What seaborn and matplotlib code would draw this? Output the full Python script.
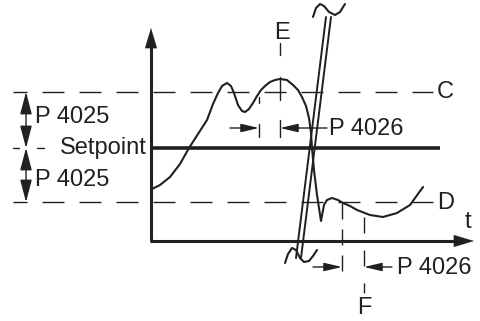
import matplotlib
matplotlib.use('Agg')
import matplotlib.pyplot as plt
import seaborn as sns
from matplotlib.patches import ArrowStyle

# Diagram drawn in pixel coordinates of the 480x321 picture
# Control curve (actual value over time t)
curve_x = [152, 160, 170, 180, 189, 198, 207, 213, 218, 222, 227, 231, 234, 238, 242, 245,
           249, 253, 257, 261, 265, 270, 275, 280, 287, 293, 298, 302, 306, 309, 311, 312,
           314, 317, 321, 324, 327, 332, 338, 343, 350, 357, 370, 383, 397, 410, 423]
curve_y = [189, 185, 177, 164, 148, 134, 120, 104, 93, 86, 83, 86, 93, 105, 111, 112,
           109, 103, 96, 90, 86, 82, 80, 79, 80, 85, 90, 97, 106, 118, 133, 148,
           170, 195, 221, 205, 200, 198, 200, 203, 206, 210, 215, 217, 213, 205, 187]

# Axis break symbol (two slanted lines plus wavy ends)
break_x1 = [296, 326]
break_x2 = [301, 331]
break_y = [258, 17]
top_wave_x = [313, 316, 320, 324, 329, 335, 340, 345]
top_wave_y = [17, 8, 4, 6, 12, 15, 12, 4]
bot_wave_x = [285, 288, 292, 296, 300, 304, 309, 313, 317]
bot_wave_y = [263, 254, 248, 250, 258, 262, 261, 256, 250]

# Levels
setpoint_y = 148
band_c_y = 92
band_d_y = 202

# Labels
band_label = 'P 4025'
time_label = 'P 4026'

ink = '#231f20'
px = 0.72  # points per pixel at dpi 100

sns.set_style('white')
plt.rcParams['font.family'] = ['Liberation Sans', 'DejaVu Sans']

fig = plt.figure(figsize=(4.8, 3.21), dpi=100)
ax = fig.add_axes([0, 0, 1, 1])
ax.set_xlim(0, 480)
ax.set_ylim(321, 0)
ax.axis('off')

# dashed tolerance lines C and D
period_on, period_off = 22 * px, 15 * px
for yy in (band_c_y, band_d_y):
    ax.plot([13, 433], [yy, yy], color=ink, lw=1.0,
            linestyle=(8 * px, (period_on, period_off)))
# short dashes left of "Setpoint"
ax.plot([13, 19], [setpoint_y, setpoint_y], color=ink, lw=1.0)
ax.plot([37, 44], [setpoint_y, setpoint_y], color=ink, lw=1.0)

# setpoint line
ax.plot([151, 440], [setpoint_y, setpoint_y], color=ink, lw=2.6, solid_capstyle='butt')

# axes with arrows
ax.plot([151, 151], [241, 46], color=ink, lw=2.2, solid_capstyle='butt')
ax.plot([150, 456], [241, 241], color=ink, lw=2.2, solid_capstyle='butt')
axis_head = ArrowStyle('-|>', head_length=2.0, head_width=0.6)
ax.annotate('', xy=(151, 28), xytext=(151, 50),
            arrowprops=dict(arrowstyle=axis_head, color=ink, lw=0.1,
                            mutation_scale=7.2, shrinkA=0, shrinkB=0))
ax.annotate('', xy=(474, 241), xytext=(452, 241),
            arrowprops=dict(arrowstyle=axis_head, color=ink, lw=0.1,
                            mutation_scale=7.2, shrinkA=0, shrinkB=0))

# control curve
sns.lineplot(x=curve_x, y=curve_y, sort=False, color=ink, lw=1.5, ax=ax)

# break symbol
sns.lineplot(x=break_x1, y=break_y, sort=False, color=ink, lw=1.4, ax=ax)
sns.lineplot(x=break_x2, y=break_y, sort=False, color=ink, lw=1.4, ax=ax)
sns.lineplot(x=top_wave_x, y=top_wave_y, sort=False, color=ink, lw=1.5, ax=ax)
sns.lineplot(x=bot_wave_x, y=bot_wave_y, sort=False, color=ink, lw=1.5, ax=ax)

# P 4025 double arrows
band_head = ArrowStyle('<|-|>', head_length=1.9, head_width=0.5)
for y0, y1 in ((band_c_y, setpoint_y), (setpoint_y, band_d_y)):
    ax.annotate('', xy=(26, y1), xytext=(26, y0),
                arrowprops=dict(arrowstyle=band_head, color=ink, lw=1.0,
                                mutation_scale=7.2, shrinkA=0, shrinkB=0))

# E marker: dashed verticals and arrows
small_head = ArrowStyle('-|>', head_length=1.5, head_width=0.35)
ax.plot([280, 280], [43, 55], color=ink, lw=1.0)
ax.plot([280, 280], [77, 100], color=ink, lw=1.0)
ax.plot([280, 280], [120, 137], color=ink, lw=1.0)
ax.plot([259, 259], [97, 103], color=ink, lw=1.0)
ax.plot([259, 259], [124, 137], color=ink, lw=1.0)
ax.annotate('', xy=(259, 128), xytext=(230, 128),
            arrowprops=dict(arrowstyle=small_head, color=ink, lw=1.0,
                            mutation_scale=7.2, shrinkA=0, shrinkB=0))
ax.annotate('', xy=(280, 128), xytext=(327, 128),
            arrowprops=dict(arrowstyle=small_head, color=ink, lw=1.0,
                            mutation_scale=7.2, shrinkA=0, shrinkB=0))

# F marker
ax.plot([342, 342], [203, 272], color=ink, lw=1.0, linestyle=(0, (16 * px, 10 * px)))
ax.plot([364, 364], [217, 293], color=ink, lw=1.0, linestyle=(0, (16 * px, 17 * px)))
ax.annotate('', xy=(342, 267), xytext=(313, 267),
            arrowprops=dict(arrowstyle=small_head, color=ink, lw=1.0,
                            mutation_scale=7.2, shrinkA=0, shrinkB=0))
ax.annotate('', xy=(364, 267), xytext=(392, 267),
            arrowprops=dict(arrowstyle=small_head, color=ink, lw=1.0,
                            mutation_scale=7.2, shrinkA=0, shrinkB=0))

# texts
fs = 17
ax.text(35, 117, band_label, fontsize=fs, color=ink, va='center', ha='left')
ax.text(35, 180, band_label, fontsize=fs, color=ink, va='center', ha='left')
ax.text(147, setpoint_y, 'Setpoint', fontsize=fs, color=ink, va='center', ha='right')
ax.text(329, 129, time_label, fontsize=fs, color=ink, va='center', ha='left')
ax.text(397, 268, time_label, fontsize=fs, color=ink, va='center', ha='left')
ax.text(282, 33, 'E', fontsize=fs, color=ink, va='center', ha='center')
ax.text(364, 308, 'F', fontsize=fs, color=ink, va='center', ha='center')
ax.text(437, 92, 'C', fontsize=fs, color=ink, va='center', ha='left')
ax.text(437, 203, 'D', fontsize=fs, color=ink, va='center', ha='left')
ax.text(468, 222, 't', fontsize=fs, color=ink, va='center', ha='center')

fig.savefig('out.png', dpi=100)
